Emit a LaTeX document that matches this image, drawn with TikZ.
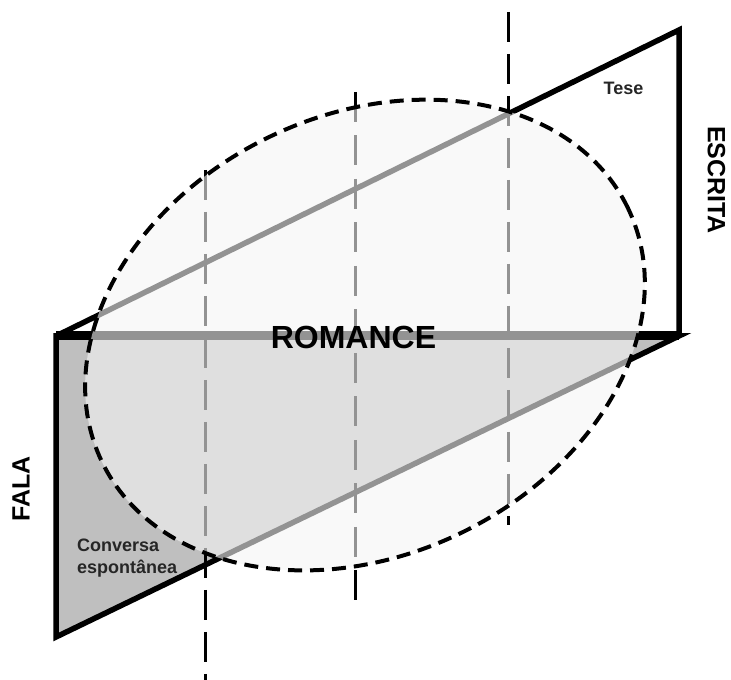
\documentclass[tikz,border=0pt]{standalone}
\usepackage{fontspec}
\setmainfont{Liberation Sans}
\begin{document}
\begin{tikzpicture}[x=1pt,y=1pt,
  edge/.style={line width=5.5pt, line join=miter, miter limit=10},
  vdash/.style={line width=3pt, dash pattern=on 30pt off 12pt},
  edash/.style={line width=4pt, dash pattern=on 14pt off 8pt},
  lbl/.style={font=\bfseries, inner sep=0pt}]
\useasboundingbox (0,0) rectangle (731,680);
\coordinate (L) at (56,344);
\coordinate (UT) at (679,650);
\coordinate (R) at (679,344);
\coordinate (LB) at (56,43);
\coordinate (E) at (365,345);
% lower (FALA) triangle
\filldraw[fill=black!25, edge] (L) -- (R) -- (LB) -- cycle;
% upper (ESCRITA) triangle
\draw[edge] (L) -- (UT) -- (R);
\draw[line width=9pt] (L) -- (R);
% vertical dashed lines
\coordinate (a1) at (205,510); \coordinate (a2) at (205,0);
\coordinate (b1) at (355,588); \coordinate (b2) at (355,75);
\coordinate (c1) at (508,668); \coordinate (c2) at (508,155);
\draw[vdash] (a1) -- (a2);
\draw[vdash, dash pattern=on 30pt off 13.5pt] (b1) -- (b2);
\draw[vdash] (c1) -- (c2);
% ellipse overlay
\fill[black!4, opacity=0.6, rotate around={25.8:(E)}] (E) ellipse [x radius=292pt, y radius=220pt];
\draw[edash, rotate around={25.8:(E)}] (E) ellipse [x radius=292pt, y radius=220pt];
% labels
\node[lbl, font=\bfseries\fontsize{32}{36}\selectfont] (romance) at (353.5,342.5) {ROMANCE};
\node[lbl, font=\bfseries\fontsize{25}{28}\selectfont, rotate=-90] (escrita) at (716.5,500) {ESCRITA};
\node[lbl, font=\bfseries\fontsize{25}{28}\selectfont, rotate=90] (fala) at (21,191) {FALA};
\node[lbl, font=\bfseries\fontsize{18}{21}\selectfont, text=black!85] (tese) at (623.5,591.5) {Tese};
\node[lbl, font=\bfseries\fontsize{18}{21.5}\selectfont, text=black!85, align=left, anchor=west] (conv) at (77,122) {Conversa\\espontânea};
\end{tikzpicture}
\end{document}
